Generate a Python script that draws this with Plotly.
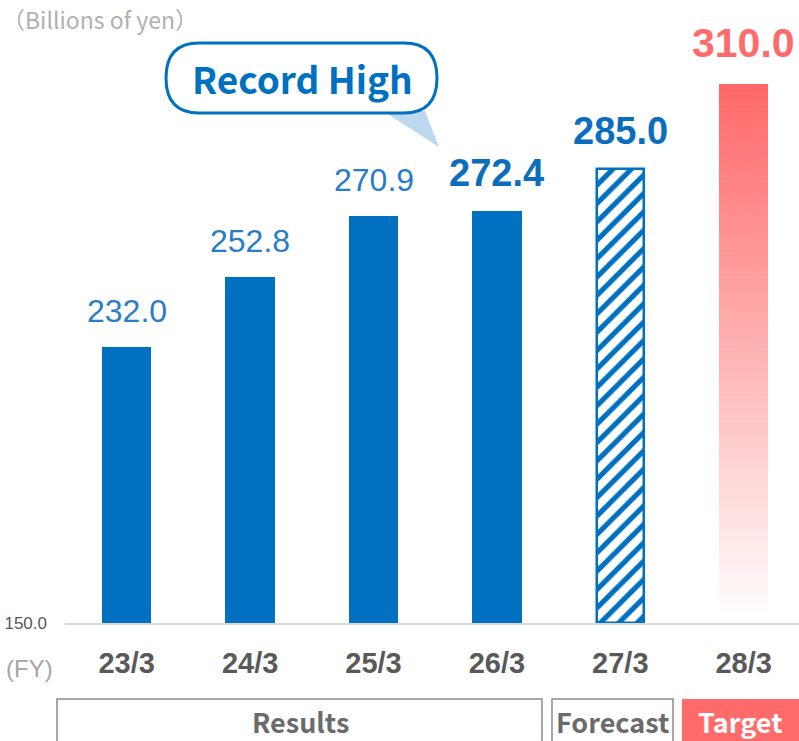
import plotly.graph_objects as go

# ---------------- data ----------------
categories = ["23/3", "24/3", "25/3", "26/3", "27/3", "28/3"]
values = [232.0, 252.8, 270.9, 272.4, 285.0, 310.0]
value_labels = ["232.0", "252.8", "270.9", "272.4", "285.0", "310.0"]
kinds = ["result", "result", "result", "result", "forecast", "target"]
axis_min = 150.0
axis_tick_label = "150.0"
unit_label = "（Billions of yen）"
fy_label = "(FY)"
callout_text = "Record High"
group_names = ["Results", "Forecast", "Target"]

# ---------------- layout constants ----------------
W, H = 799, 741
L, R, T, B = 65, 0, 0, 118
PW, PH = W - L - R, H - T - B
CAT_STEP = 123.4          # px per category
PX_PER_UNIT = 3.366       # px per billion yen

BLUE = "#0070C0"
LABEL_BLUE = "#2A7CC7"
RED = "#FF6B6B"
GRAY_TXT = "#595959"

x_range = [-0.5, -0.5 + PW / CAT_STEP]
y_range = [axis_min, axis_min + PH / PX_PER_UNIT]


def px(x):
    return (x - L) / PW


def py(y):
    return (T + PH - y) / PH


fig = go.Figure()

# results bars
res_x = [c for c, k in zip(categories, kinds) if k == "result"]
res_v = [v for v, k in zip(values, kinds) if k == "result"]
fig.add_trace(go.Bar(
    x=res_x, y=[v - axis_min for v in res_v], base=axis_min,
    width=0.4, marker=dict(color=BLUE, line=dict(width=0)),
    hoverinfo="skip", showlegend=False))

# forecast bar (hatched)
fc_x = [c for c, k in zip(categories, kinds) if k == "forecast"]
fc_v = [v for v, k in zip(values, kinds) if k == "forecast"]
fig.add_trace(go.Bar(
    x=fc_x, y=[v - axis_min for v in fc_v], base=axis_min,
    width=0.385,
    marker=dict(color="white", line=dict(color=BLUE, width=2.5),
                pattern=dict(shape="/", fgcolor=BLUE, bgcolor="white",
                             fgopacity=1, size=13, solidity=0.4)),
    hoverinfo="skip", showlegend=False))

# target bar (vertical gradient built from stacked slices)
tg_x = [c for c, k in zip(categories, kinds) if k == "target"][0]
tg_v = [v for v, k in zip(values, kinds) if k == "target"][0]
N = 90
step = (tg_v - axis_min) / N
top_rgb = (255, 104, 104)
for i in range(N):
    t = (i + 0.5) / N
    r = round(255 + t * (top_rgb[0] - 255))
    g = round(255 + t * (top_rgb[1] - 255))
    b = round(255 + t * (top_rgb[2] - 255))
    col = f"rgb({r},{g},{b})"
    fig.add_trace(go.Bar(
        x=[tg_x], y=[step * 1.02], base=axis_min + i * step,
        width=0.4, marker=dict(color=col, line=dict(width=0)),
        hoverinfo="skip", showlegend=False))

# value labels
for c, v, lab, k in zip(categories, values, value_labels, kinds):
    if k == "target":
        font = dict(family="Liberation Sans", size=41, color=RED, weight="bold")
        ys = 16
    elif k == "forecast" or v == max(values[:4]):
        font = dict(family="Liberation Sans", size=38, color="#0A6DBE", weight="bold")
        ys = 15
    else:
        font = dict(family="Liberation Sans", size=32, color=LABEL_BLUE)
        ys = 16
    fig.add_annotation(x=c, y=v, xref="x", yref="y", text=lab, showarrow=False,
                       xanchor="center", yanchor="bottom", yshift=ys, font=font)

shapes = []

# callout bubble
x0, x1, y0, y1, rr = 166, 437, 43, 113, 33
pts = [
    f"M {px(x0 + rr)},{py(y0)}",
    f"L {px(x1 - rr)},{py(y0)}",
    f"Q {px(x1)},{py(y0)} {px(x1)},{py((y0 + y1) / 2)}",
    f"Q {px(x1)},{py(y1)} {px(x1 - rr)},{py(y1)}",
    f"L {px(x0 + rr)},{py(y1)}",
    f"Q {px(x0)},{py(y1)} {px(x0)},{py((y0 + y1) / 2)}",
    f"Q {px(x0)},{py(y0)} {px(x0 + rr)},{py(y0)}",
    "Z",
]
# tail
shapes.append(dict(type="path", xref="paper", yref="paper",
                   path=f"M {px(383)},{py(111)} L {px(425)},{py(111)} L {px(439)},{py(147)} Z",
                   fillcolor="#BDD7EE", line=dict(width=0), layer="above"))
shapes.append(dict(type="path", xref="paper", yref="paper", path=" ".join(pts),
                   fillcolor="white", line=dict(color=BLUE, width=3), layer="above"))

# group boxes under the axis
shapes.append(dict(type="rect", xref="paper", yref="paper",
                   x0=px(57), x1=px(542), y0=py(746), y1=py(699),
                   line=dict(color="#8a8a8a", width=1.5), fillcolor="rgba(0,0,0,0)"))
shapes.append(dict(type="rect", xref="paper", yref="paper",
                   x0=px(552), x1=px(673), y0=py(746), y1=py(699),
                   line=dict(color="#8a8a8a", width=1.5), fillcolor="rgba(0,0,0,0)"))
shapes.append(dict(type="rect", xref="paper", yref="paper",
                   x0=px(682), x1=px(805), y0=py(746), y1=py(699),
                   line=dict(width=0), fillcolor=RED))

fig.update_layout(shapes=shapes)

cjk = "Noto Sans CJK JP"


def label(x, y, text, font, xanchor="center"):
    fig.add_annotation(xref="paper", yref="paper", x=px(x), y=py(y),
                       xanchor=xanchor, yanchor="middle",
                       text=text, showarrow=False, font=font)


label(302, 78, callout_text, dict(family=cjk, size=37, color=BLUE, weight="bold"))
label(300, 721, group_names[0], dict(family=cjk, size=27, color="#6b6b6b", weight="bold"))
label(612.5, 721, group_names[1], dict(family=cjk, size=27, color="#6b6b6b", weight="bold"))
label(740, 721, group_names[2], dict(family=cjk, size=27, color="white", weight="bold"))
label(0, 19, unit_label, dict(family=cjk, size=23, color="#b0b0b0"), xanchor="left")
label(4, 668, fy_label, dict(family="Liberation Sans", size=24, color="#a6a6a6"), xanchor="left")

fig.update_layout(
    width=W, height=H,
    margin=dict(l=L, r=R, t=T, b=B, pad=0, autoexpand=False),
    plot_bgcolor="white", paper_bgcolor="white",
    barmode="overlay", bargap=0,
    showlegend=False,
    xaxis=dict(type="category", categoryorder="array", categoryarray=categories,
               range=x_range, showgrid=False, zeroline=False,
               showline=True, linecolor="#d9d9d9", linewidth=2,
               ticks="", ticklabelstandoff=13, automargin=False,
               tickfont=dict(family="Liberation Sans", size=29, color=GRAY_TXT, weight="bold")),
    yaxis=dict(range=y_range, showgrid=False, zeroline=False, showline=False,
               tickmode="array", tickvals=[axis_min], ticktext=[axis_tick_label],
               ticks="", ticklabelstandoff=17, automargin=False,
               tickfont=dict(family="Liberation Sans", size=17, color=GRAY_TXT)),
)

fig.write_html("out.html",
               config={"displayModeBar": False},
               post_script="document.body.style.margin='0';document.body.style.padding='0';")
